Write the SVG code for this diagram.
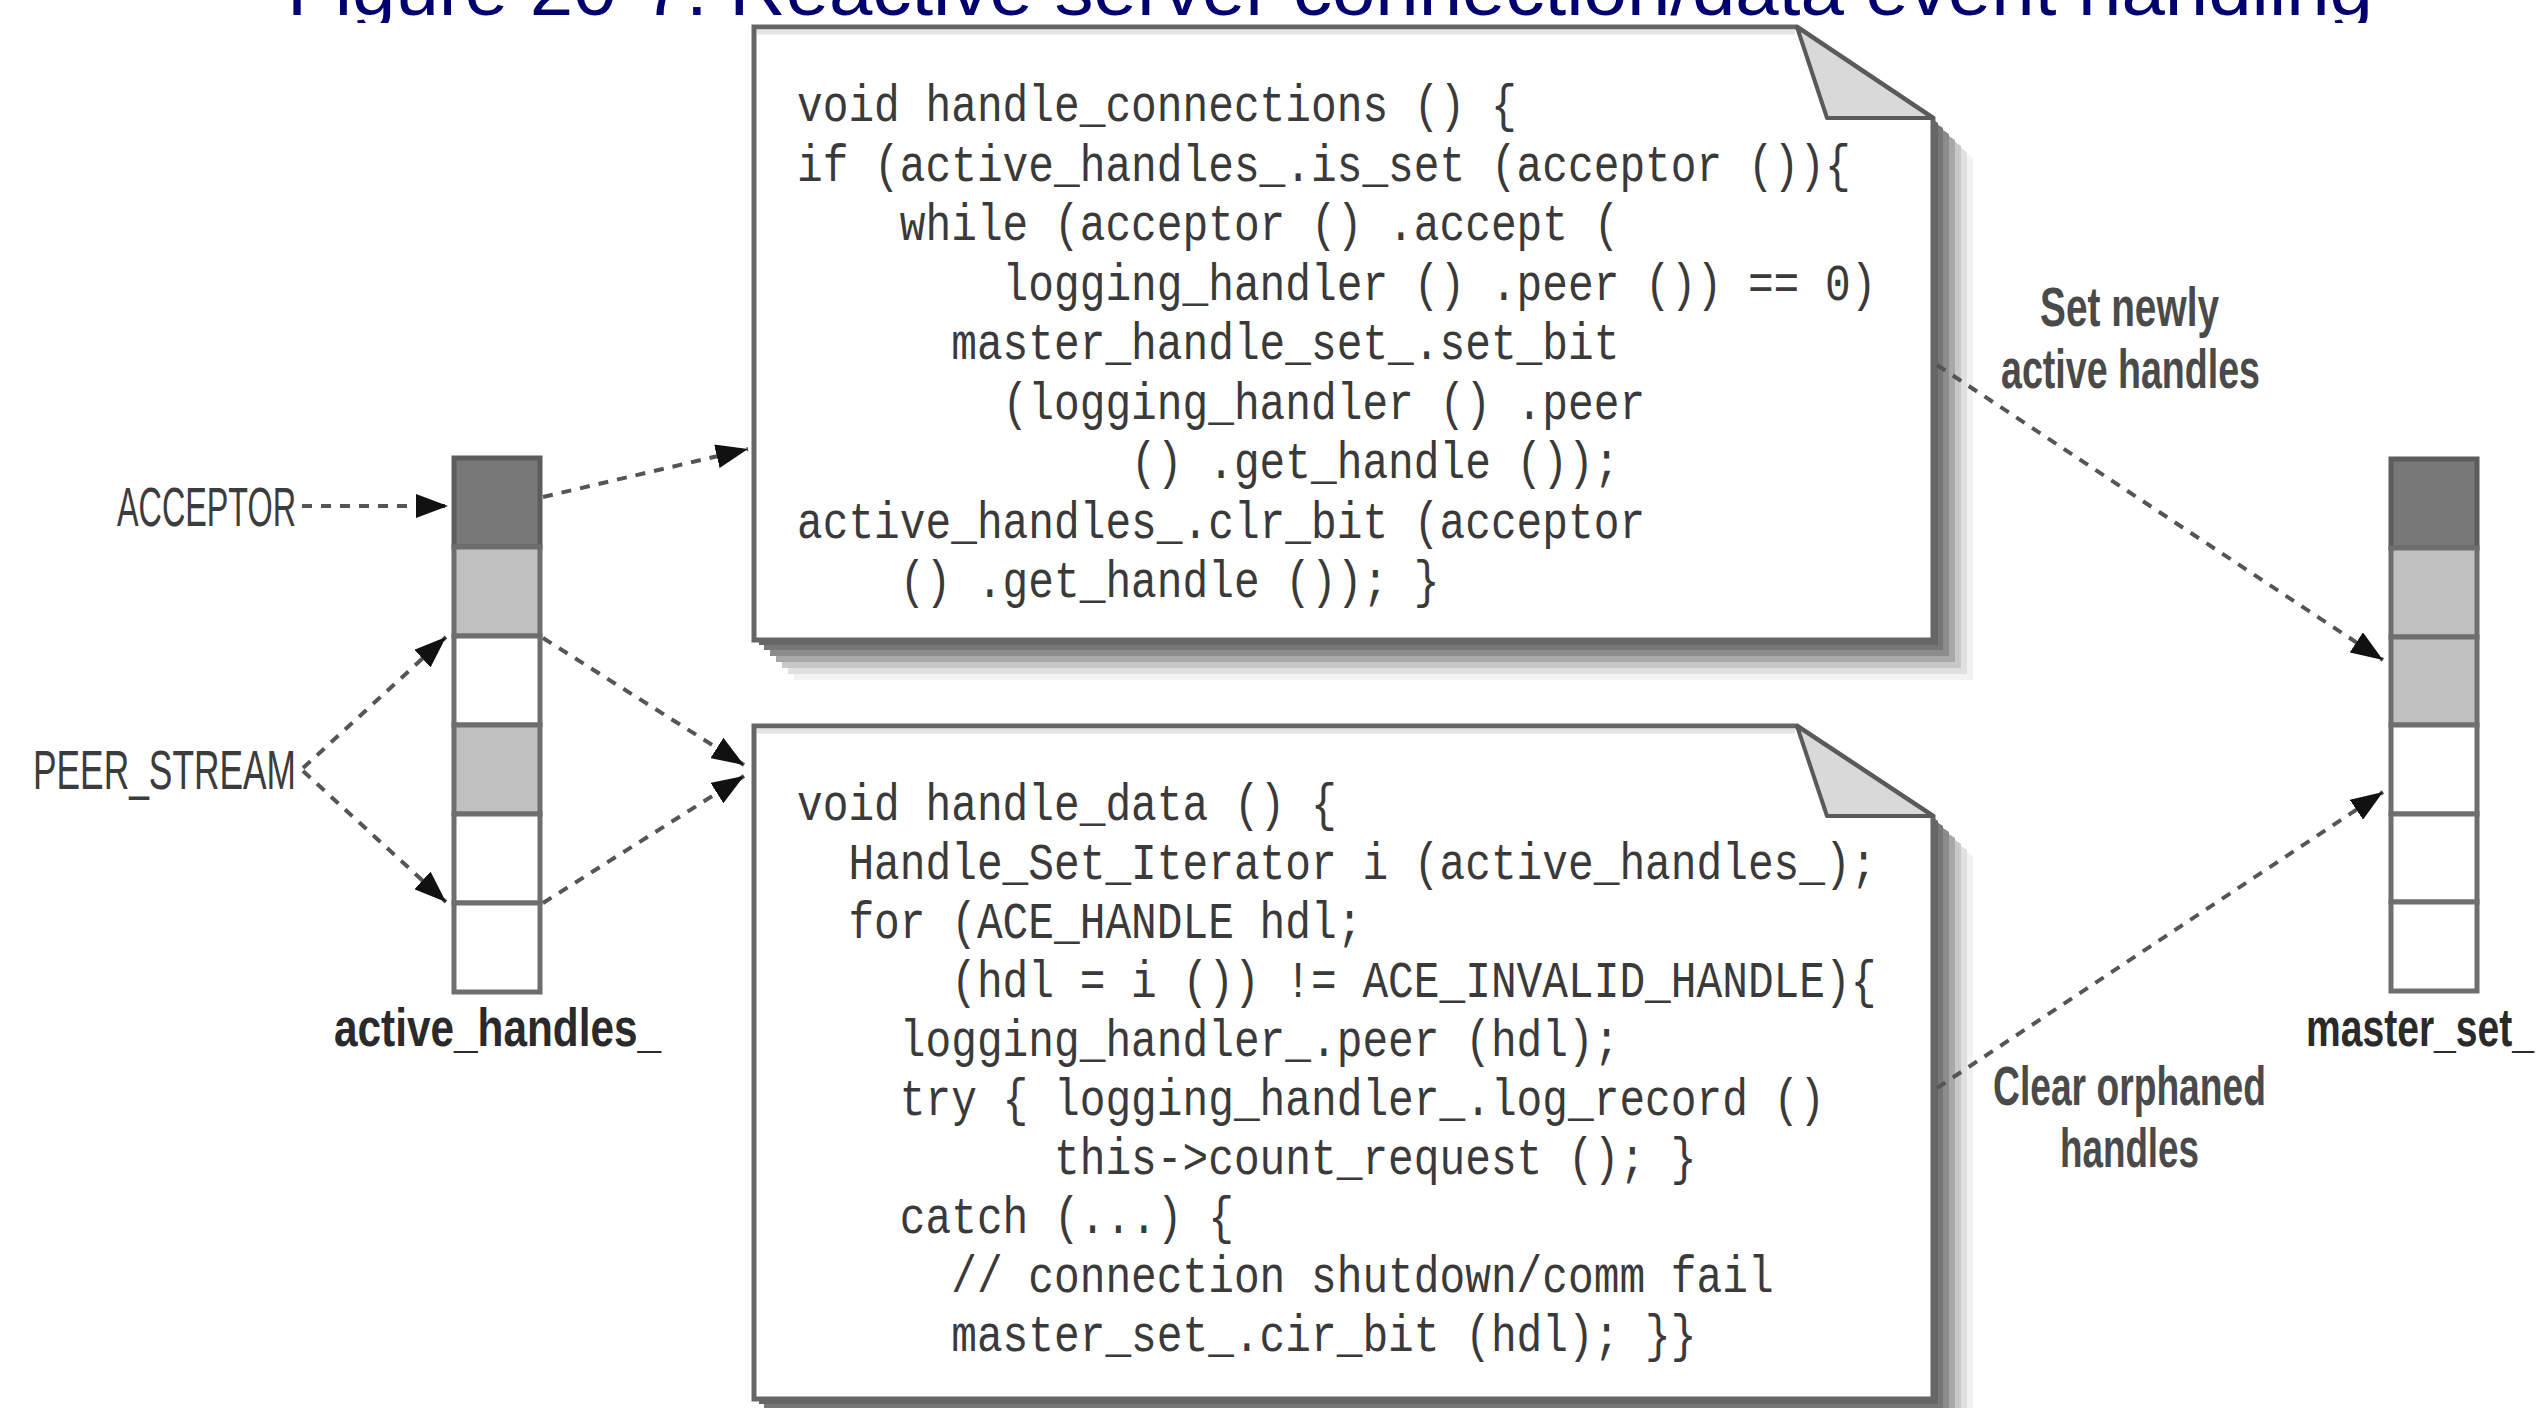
<svg xmlns="http://www.w3.org/2000/svg" xmlns:xlink="http://www.w3.org/1999/xlink" width="2545" height="1408" viewBox="0 0 2545 1408">
<style>
.title{font-family:"Liberation Sans",Arial,sans-serif;font-size:74px;fill:#00006e}
.code{font-family:"Liberation Mono","Courier New",monospace;font-size:52px;fill:#3a3a3a}
.lbl{font-family:"Liberation Sans",Arial,sans-serif;font-size:55px;fill:#3c3c3c}
.lblb{font-family:"Liberation Sans",Arial,sans-serif;font-size:53px;font-weight:bold;fill:#2a2a2a}
.lbls{font-family:"Liberation Sans",Arial,sans-serif;font-size:55px;font-weight:bold;fill:#4a4a4a}
.conn{fill:none;stroke:#555;stroke-width:4;stroke-dasharray:10 9;marker-end:url(#ah)}
.cell{stroke:#6e6e6e;stroke-width:5}
.cd{fill:#787878;stroke:#5c5c5c}
.cl{fill:#c0c0c0}
.cw{fill:#ffffff}
.box{fill:#ffffff;stroke:#666;stroke-width:5;stroke-linejoin:miter}
.fold{fill:#d9d9d9;stroke:#5a5a5a;stroke-width:4;stroke-linejoin:round}
</style>
<defs>
<marker id="ah" markerUnits="userSpaceOnUse" markerWidth="32" markerHeight="24" refX="32" refY="12" orient="auto">
<path d="M0,0 L32,12 L0,24 Z" fill="#111"/>
</marker>
<path id="b1" d="M754,27 H1797 L1933,118 V640 H754 Z"/>
<path id="b2" d="M754,726 H1797 L1933,816 V1399 H754 Z"/>
<clipPath id="tclip"><rect x="0" y="0" width="2545" height="23"/></clipPath>
</defs>
<rect width="2545" height="1408" fill="#ffffff"/>
<text class="title" x="287" y="15" textLength="2086" lengthAdjust="spacingAndGlyphs" clip-path="url(#tclip)">Figure 20-7. Reactive server connection/data event handling</text>

<g id="box-handle-connections">
<use xlink:href="#b1" transform="translate(40,40)" fill="#f2f2f2"/>
<use xlink:href="#b1" transform="translate(34,34)" fill="#e0e0e0"/>
<use xlink:href="#b1" transform="translate(28,28)" fill="#c8c8c8"/>
<use xlink:href="#b1" transform="translate(22,22)" fill="#a8a8a8"/>
<use xlink:href="#b1" transform="translate(16,16)" fill="#8c8c8c"/>
<use xlink:href="#b1" transform="translate(10,10)" fill="#777"/>
<use xlink:href="#b1" transform="translate(5,5)" fill="#666"/>
<use xlink:href="#b1" class="box"/>
<line x1="757" y1="32" x2="1795" y2="32" stroke="#e4e4e4" stroke-width="5"/>
<path class="fold" d="M1797,27 L1827,118 L1933,118 Z"/>
<text class="code" x="797" y="121" textLength="719.6" lengthAdjust="spacingAndGlyphs">void handle_connections () {</text>
<text class="code" x="797" y="180.5" textLength="1053.7" lengthAdjust="spacingAndGlyphs">if (active_handles_.is_set (acceptor ()){</text>
<text class="code" x="899.8" y="240" textLength="719.6" lengthAdjust="spacingAndGlyphs">while (acceptor () .accept (</text>
<text class="code" x="1002.6" y="299.5" textLength="873.8" lengthAdjust="spacingAndGlyphs">logging_handler () .peer ()) == 0)</text>
<text class="code" x="951.2" y="359" textLength="668.2" lengthAdjust="spacingAndGlyphs">master_handle_set_.set_bit</text>
<text class="code" x="1002.6" y="418.5" textLength="642.5" lengthAdjust="spacingAndGlyphs">(logging_handler () .peer</text>
<text class="code" x="1131.1" y="478" textLength="488.3" lengthAdjust="spacingAndGlyphs">() .get_handle ());</text>
<text class="code" x="797" y="537.5" textLength="848.1" lengthAdjust="spacingAndGlyphs">active_handles_.clr_bit (acceptor</text>
<text class="code" x="899.8" y="597" textLength="539.7" lengthAdjust="spacingAndGlyphs">() .get_handle ()); }</text>
</g>

<g id="box-handle-data">
<use xlink:href="#b2" transform="translate(40,40)" fill="#f2f2f2"/>
<use xlink:href="#b2" transform="translate(34,34)" fill="#e0e0e0"/>
<use xlink:href="#b2" transform="translate(28,28)" fill="#c8c8c8"/>
<use xlink:href="#b2" transform="translate(22,22)" fill="#a8a8a8"/>
<use xlink:href="#b2" transform="translate(16,16)" fill="#8c8c8c"/>
<use xlink:href="#b2" transform="translate(10,10)" fill="#777"/>
<use xlink:href="#b2" transform="translate(5,5)" fill="#666"/>
<use xlink:href="#b2" class="box"/>
<line x1="757" y1="731" x2="1795" y2="731" stroke="#e4e4e4" stroke-width="5"/>
<path class="fold" d="M1797,726 L1827,816 L1933,816 Z"/>
<text class="code" x="797" y="820" textLength="539.7" lengthAdjust="spacingAndGlyphs">void handle_data () {</text>
<text class="code" x="848.4" y="879" textLength="1028" lengthAdjust="spacingAndGlyphs">Handle_Set_Iterator i (active_handles_);</text>
<text class="code" x="848.4" y="938" textLength="514" lengthAdjust="spacingAndGlyphs">for (ACE_HANDLE hdl;</text>
<text class="code" x="951.2" y="997" textLength="925.2" lengthAdjust="spacingAndGlyphs">(hdl = i ()) != ACE_INVALID_HANDLE){</text>
<text class="code" x="899.8" y="1056" textLength="719.6" lengthAdjust="spacingAndGlyphs">logging_handler_.peer (hdl);</text>
<text class="code" x="899.8" y="1115" textLength="925.2" lengthAdjust="spacingAndGlyphs">try { logging_handler_.log_record ()</text>
<text class="code" x="1054" y="1174" textLength="642.5" lengthAdjust="spacingAndGlyphs">this-&gt;count_request (); }</text>
<text class="code" x="899.8" y="1233" textLength="334.1" lengthAdjust="spacingAndGlyphs">catch (...) {</text>
<text class="code" x="951.2" y="1292" textLength="822.4" lengthAdjust="spacingAndGlyphs">// connection shutdown/comm fail</text>
<text class="code" x="951.2" y="1351" textLength="745.3" lengthAdjust="spacingAndGlyphs">master_set_.cir_bit (hdl); }}</text>
</g>

<g id="active-handles">
<rect class="cell cd" x="454" y="458" width="86" height="89"/>
<rect class="cell cl" x="454" y="547" width="86" height="89"/>
<rect class="cell cw" x="454" y="636" width="86" height="89"/>
<rect class="cell cl" x="454" y="725" width="86" height="89"/>
<rect class="cell cw" x="454" y="814" width="86" height="89"/>
<rect class="cell cw" x="454" y="903" width="86" height="89"/>
<text class="lblb" x="334" y="1046" textLength="327" lengthAdjust="spacingAndGlyphs">active_handles_</text>
</g>

<g id="master-set">
<rect class="cell cd" x="2391" y="459" width="86" height="89"/>
<rect class="cell cl" x="2391" y="548" width="86" height="89"/>
<rect class="cell cl" x="2391" y="637" width="86" height="88"/>
<rect class="cell cw" x="2391" y="725" width="86" height="89"/>
<rect class="cell cw" x="2391" y="814" width="86" height="88"/>
<rect class="cell cw" x="2391" y="902" width="86" height="89"/>
<text class="lblb" x="2306" y="1046" textLength="228" lengthAdjust="spacingAndGlyphs">master_set_</text>
</g>

<g id="label-acceptor">
<text class="lbl" x="117" y="526" textLength="179" lengthAdjust="spacingAndGlyphs">ACCEPTOR</text>
</g>
<g id="label-peer-stream">
<text class="lbl" x="33" y="789" textLength="263" lengthAdjust="spacingAndGlyphs">PEER_STREAM</text>
</g>
<g id="label-set-newly">
<text class="lbls" x="2040" y="326" textLength="179" lengthAdjust="spacingAndGlyphs">Set newly</text>
<text class="lbls" x="2001" y="388" textLength="259" lengthAdjust="spacingAndGlyphs">active handles</text>
</g>
<g id="label-clear-orphaned">
<text class="lbls" x="1993" y="1105" textLength="273" lengthAdjust="spacingAndGlyphs">Clear orphaned</text>
<text class="lbls" x="2060" y="1167" textLength="139" lengthAdjust="spacingAndGlyphs">handles</text>
</g>

<g id="connectors">
<path class="conn" d="M302,506 L448,506"/>
<path class="conn" d="M303,768 L446,637"/>
<path class="conn" d="M303,771 L446,902"/>
<path class="conn" d="M543,497 L748,449"/>
<path class="conn" d="M543,638 L744,765"/>
<path class="conn" d="M543,903 L744,776"/>
<path class="conn" d="M1937,365 L2383,660"/>
<path class="conn" d="M1937,1088 L2383,792"/>
</g>
</svg>
